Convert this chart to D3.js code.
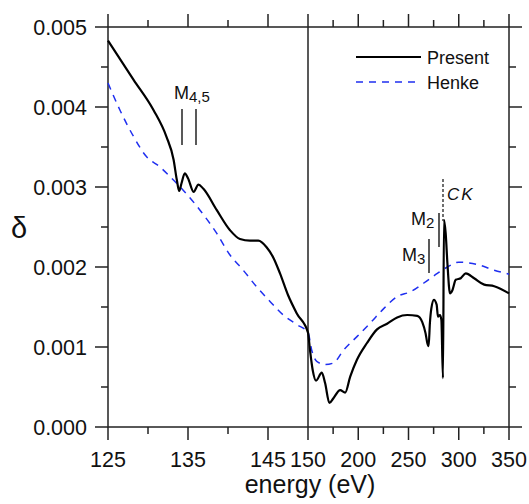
<!DOCTYPE html>
<html><head><meta charset="utf-8">
<script src="https://cdn.jsdelivr.net/npm/d3@7"></script>
<style>body{margin:0;background:#fff;}svg{display:block;font-family:"Liberation Sans",Arial,sans-serif;}</style>
</head><body>
<svg id="c" width="529" height="504"></svg>
<script>
// ---- data ----
const presentE = [125,128.2,130.7,132.3,133.2,133.6,133.9,134.2,134.6,135.0,135.7,136.3,136.9,138.6,140.25,141.5,142.75,143.8,144.8,145.7,146.5,147.5,148.6,150,152,154.7,158,163.7,167,171.3,175.3,182,187,192,198.7,208.7,218.7,228.7,238.7,248.7,258.7,263.7,267,268.7,270.0,271.3,272.7,275.3,278,279.3,281.3,282.7,284.3,285.3,287,288.7,291.3,293.7,297,302,307,315.3,325.3,335.3,350];
const presentD = [0.00483,0.00434,0.00396,0.00363,0.00334,0.00309,0.00295,0.00305,0.00317,0.00311,0.00294,0.00303,0.00298,0.00271,0.00246,0.00235,0.00233,0.00233,0.00225,0.00211,0.00192,0.00165,0.00142,0.00118,0.00096,0.00071,0.00058,0.00068,0.00055,0.00030,0.00036,0.00046,0.00043,0.00063,0.00084,0.00105,0.00122,0.00129,0.00137,0.00140,0.00139,0.00131,0.00117,0.00105,0.00101,0.00130,0.00148,0.00159,0.00153,0.00138,0.00140,0.00134,0.00061,0.00259,0.00242,0.00205,0.00167,0.00171,0.00184,0.00186,0.00192,0.00186,0.00178,0.00176,0.00167];
const henkeE = [125,126.5,128.2,129.8,131.5,132.75,134.4,136.5,138.6,140.25,141.9,143.6,145.25,146.9,148.6,150,153.7,158.7,167,175.3,185.3,198.7,212,225.3,238.7,252,265.3,278.7,288.7,300,318.7,335.3,350];
const henkeD = [0.00430,0.00396,0.00363,0.00338,0.00325,0.00313,0.00296,0.00271,0.00242,0.00215,0.00196,0.00175,0.00157,0.00140,0.00128,0.00118,0.00096,0.00082,0.00078,0.00080,0.00096,0.00113,0.00130,0.00148,0.00163,0.00169,0.00180,0.00192,0.00200,0.00206,0.00203,0.00196,0.00191];
const xMajor = [125,135,145,150,200,250,300,350];
const xMinor = [130,140,175,225,275,325];
const yMajor = [0,0.001,0.002,0.003,0.004,0.005];
const yMinor = [0.0005,0.0015,0.0025,0.0035,0.0045];
const seriesNames = ["Present","Henke"];

// ---- layout ----
const L=108, R=509, T=27, B=427;
const x = d3.scaleLinear().domain([125,150,350]).range([L,308,R]);
const y = d3.scaleLinear().domain([0,0.005]).range([B,T]);
const svg = d3.select("#c");
const axisColor="#222", MAJ=13, MIN=7;
const g = svg.append("g");

// frame
g.append("rect").attr("x",L).attr("y",T).attr("width",R-L).attr("height",B-T)
 .attr("fill","none").attr("stroke",axisColor).attr("stroke-width",1.5);
// divider at 150
g.append("line").attr("x1",x(150)).attr("x2",x(150)).attr("y1",T).attr("y2",B)
 .attr("stroke",axisColor).attr("stroke-width",1.5);

function xt(vals,len){
  vals.forEach(v=>{
    g.append("line").attr("x1",x(v)).attr("x2",x(v)).attr("y1",B).attr("y2",B+len).attr("stroke",axisColor).attr("stroke-width",1.5);
    g.append("line").attr("x1",x(v)).attr("x2",x(v)).attr("y1",T).attr("y2",T-len).attr("stroke",axisColor).attr("stroke-width",1.5);
  });
}
function yt(vals,len){
  vals.forEach(v=>{
    g.append("line").attr("y1",y(v)).attr("y2",y(v)).attr("x1",L).attr("x2",L-len).attr("stroke",axisColor).attr("stroke-width",1.5);
    g.append("line").attr("y1",y(v)).attr("y2",y(v)).attr("x1",R).attr("x2",R+len).attr("stroke",axisColor).attr("stroke-width",1.5);
  });
}
xt(xMajor,MAJ); xt(xMinor,MIN); yt(yMajor,MAJ); yt(yMinor,MIN);

// tick labels
g.selectAll(".xl").data(xMajor).enter().append("text")
 .attr("x",d=>x(d)).attr("y",467).attr("text-anchor","middle")
 .attr("font-size",21.5).attr("fill","#111").text(d=>d);
g.selectAll(".yl").data(yMajor).enter().append("text")
 .attr("x",87).attr("y",d=>y(d)+7.8).attr("text-anchor","end")
 .attr("font-size",21.5).attr("fill","#111").text(d=>d3.format(".3f")(d));

// axis titles
g.append("text").attr("x",310).attr("y",493).attr("text-anchor","middle")
 .attr("font-size",25).attr("fill","#111").text("energy (eV)");
g.append("text").attr("x",19).attr("y",238).attr("text-anchor","middle")
 .attr("font-size",29).attr("fill","#111").text("δ");

// curves
const line = d3.line().x(d=>x(d[0])).y(d=>y(d[1])).curve(d3.curveMonotoneX);
const henke = henkeE.map((e,i)=>[e,henkeD[i]]);
const present = presentE.map((e,i)=>[e,presentD[i]]);
g.append("path").datum(henke).attr("d",line).attr("fill","none")
 .attr("stroke","#1f2ff0").attr("stroke-width",1.5).attr("stroke-dasharray","7,6");
g.append("path").datum(present).attr("d",line).attr("fill","none")
 .attr("stroke","#000").attr("stroke-width",2.2).attr("stroke-linejoin","round");

// legend
g.append("line").attr("x1",356).attr("x2",421).attr("y1",57).attr("y2",57).attr("stroke","#000").attr("stroke-width",2.2);
g.append("text").attr("x",427).attr("y",63.5).attr("font-size",18).attr("fill","#111").text(seriesNames[0]);
g.append("line").attr("x1",356).attr("x2",420).attr("y1",82).attr("y2",82).attr("stroke","#1f2ff0").attr("stroke-width",1.5).attr("stroke-dasharray","7,6");
g.append("text").attr("x",427).attr("y",88.5).attr("font-size",18).attr("fill","#111").text(seriesNames[1]);

// annotations
function mlabel(xp,yp,sub){
  const t=g.append("text").attr("x",xp).attr("y",yp).attr("font-size",18).attr("fill","#111");
  t.append("tspan").text("M");
  t.append("tspan").attr("font-size",15).attr("dy",3).text(sub);
}
function bar(xv,y1,y2){
  g.append("line").attr("x1",xv).attr("x2",xv).attr("y1",y1).attr("y2",y2).attr("stroke","#222").attr("stroke-width",1.5);
}
mlabel(174,99,"4,5");
bar(182,109,145); bar(196,109,145);
mlabel(411,225,"2"); bar(439,213,247);
mlabel(402,261,"3"); bar(429,239,273);
g.append("line").attr("x1",443).attr("x2",443).attr("y1",179).attr("y2",221)
 .attr("stroke","#222").attr("stroke-width",1.3).attr("stroke-dasharray","3,2");
g.append("text").attr("x",447).attr("y",200).attr("font-size",17).attr("font-style","italic")
 .attr("letter-spacing",2).attr("fill","#111").text("CK");
</script>
</body></html>
